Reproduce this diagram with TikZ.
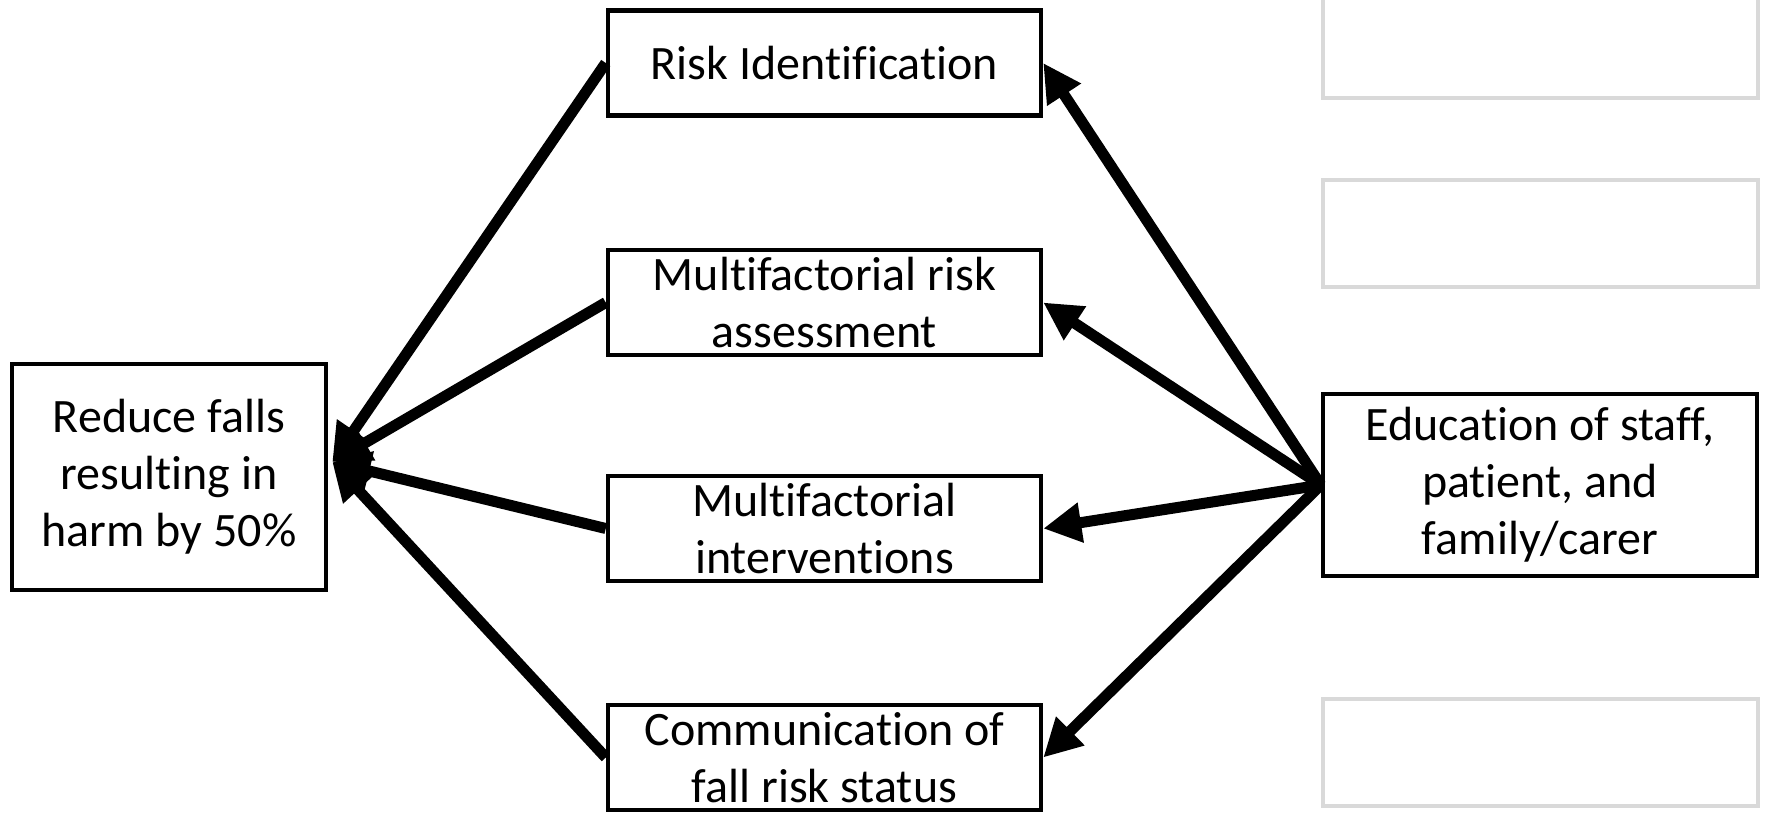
\documentclass[tikz,border=0pt]{standalone}
\usepackage{fontspec}
\setmainfont{Carlito}[Ligatures=NoCommon]
\usetikzlibrary{arrows.meta}
\definecolor{framegrey}{HTML}{D9D9D9}
\begin{document}
\begin{tikzpicture}[x=0.5pt,y=-0.5pt,
  box/.style={draw=black, line width=2.25pt, fill=white, inner sep=0pt, align=center,
              font=\fontsize{24pt}{28.5pt}\selectfont},
  midbox/.style={box, minimum width=216.5pt, minimum height=52.5pt},
  blank/.style={draw=framegrey, line width=2pt, inner sep=0pt,
                minimum width=217.5pt, minimum height=53.5pt},
  link/.style={line width=5.5pt, -{Triangle[length=19pt,width=19pt]}}]
\useasboundingbox (0,0) rectangle (1766,814);

% goal on the left
\node[box, minimum width=157pt, minimum height=113pt] (goal) at (169,477)
  {Reduce falls\\resulting in\\harm by 50\%};

% the four strategies
\node[midbox] (ident) at (824.5,63)    {Risk Identification};
\node[midbox] (assess) at (824.5,302.5) {Multifactorial risk\\assessment};
\node[midbox] (interv) at (824.5,528.5) {Multifactorial\\interventions};
\node[midbox] (comm) at (824.5,757.5)   {Communication of\\fall risk status};

% education on the right
\node[box, minimum width=217pt, minimum height=91pt] (edu) at (1540,485)
  {Education of staff,\\patient, and\\family/carer};

% empty placeholder frames
\node[blank] (blankA) at (1540.5,44.5) {};
\node[blank] (blankB) at (1540.5,233) {};
\node[blank] (blankC) at (1540.5,752.5) {};

% meeting point of the arrows into the goal
\coordinate (hub) at ([xshift=2pt,yshift=7.5pt]goal.east);

\draw[link] (ident.west) -- (hub);
\draw[link] (assess.west) -- (hub);
\draw[link] (interv.west) -- (hub);
\draw[link] (comm.west) -- (hub);

\draw[link] (edu.west) -- (ident.east);
\draw[link] (edu.west) -- (assess.east);
\draw[link] (edu.west) -- (interv.east);
\draw[link] (edu.west) -- (comm.east);
\end{tikzpicture}
\end{document}
